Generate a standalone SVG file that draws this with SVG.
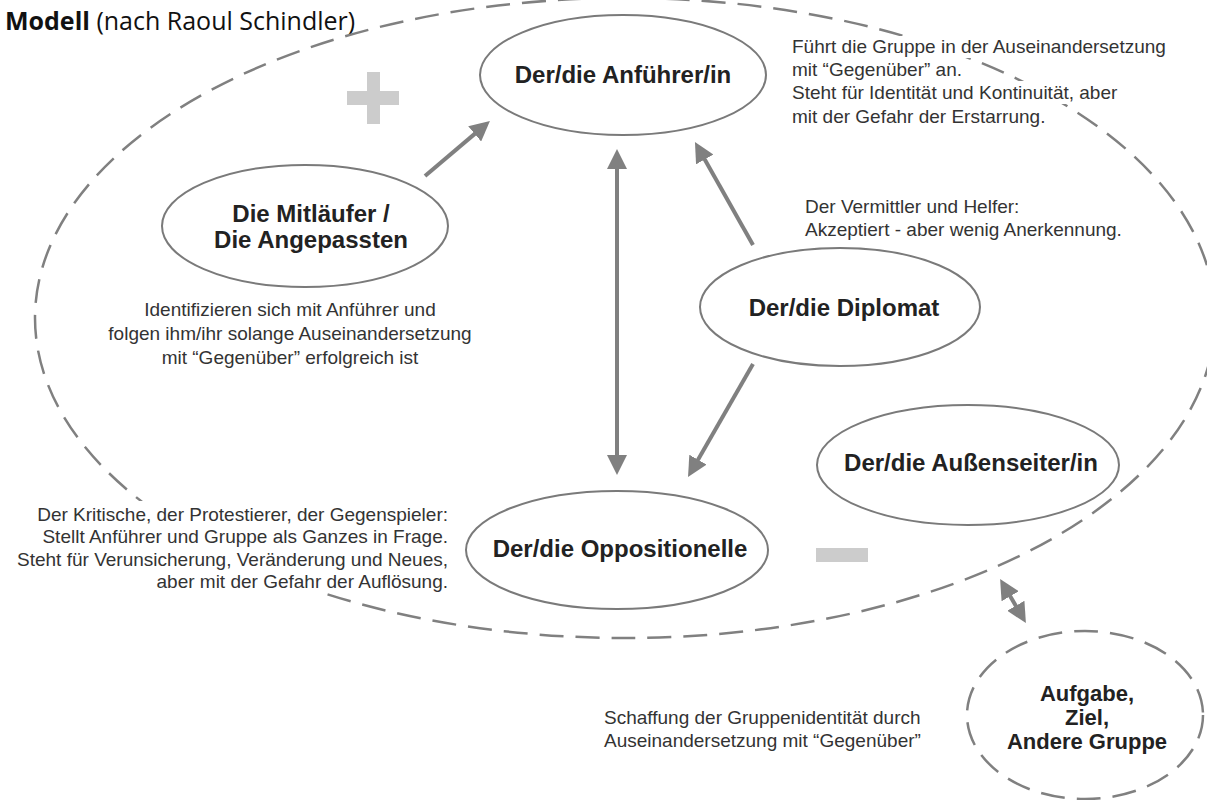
<svg xmlns="http://www.w3.org/2000/svg" width="1207" height="800" viewBox="0 0 1207 800">
<style>
.node{fill:#fff;stroke:#7a7a7a;stroke-width:2}
.dash{fill:none;stroke:#808080;stroke-width:2.5;stroke-dasharray:24 12}
.lbl{font-family:"Liberation Sans",Arial,sans-serif;font-weight:bold;font-size:24px;fill:#222;text-anchor:middle}
.desc{font-family:"Liberation Sans",Arial,sans-serif;font-size:19px;fill:#333}
.arr{stroke:#808080;stroke-width:4;fill:none}
.sign{fill:#cccccc}
.bg{fill:#fff}
</style>
<defs>
<marker id="ah" viewBox="0 0 20 20" markerWidth="20" markerHeight="20" refX="2" refY="10" orient="auto-start-reverse" markerUnits="userSpaceOnUse">
<path d="M0,0 L20,10 L0,20 z" fill="#808080"/>
</marker>
</defs>
<rect width="1207" height="800" fill="#fff"/>
<text x="5" y="30" font-family="'Open Sans',sans-serif" font-size="25" fill="#111"><tspan font-weight="bold">Modell</tspan> (nach Raoul Schindler)</text>
<g id="gruppe">
<ellipse class="dash" cx="625" cy="318" rx="590" ry="320"/>
</g>
<g id="plus"><rect class="sign" x="347" y="91" width="52" height="14"/><rect class="sign" x="367" y="72" width="13" height="52"/></g>
<g id="minus"><rect class="sign" x="816" y="548" width="52" height="14"/></g>
<g id="text-anfuehrer">
<rect class="bg" x="788" y="36" width="382" height="22"/>
<rect class="bg" x="788" y="58" width="174" height="23"/>
<rect class="bg" x="788" y="81" width="292" height="23"/>
<rect class="bg" x="788" y="104" width="264" height="23"/>
<text class="desc" x="792"><tspan x="792" y="53">Führt die Gruppe in der Auseinandersetzung</tspan><tspan x="792" y="76">mit “Gegenüber” an.</tspan><tspan x="792" y="99">Steht für Identität und Kontinuität, aber</tspan><tspan x="792" y="123">mit der Gefahr der Erstarrung.</tspan></text>
</g>
<g id="text-oppositionelle">
<rect class="bg" x="5" y="501" width="450" height="92"/>
<text class="desc" text-anchor="end"><tspan x="448" y="521">Der Kritische, der Protestierer, der Gegenspieler:</tspan><tspan x="448" y="543">Stellt Anführer und Gruppe als Ganzes in Frage.</tspan><tspan x="448" y="566">Steht für Verunsicherung, Veränderung und Neues,</tspan><tspan x="448" y="588">aber mit der Gefahr der Auflösung.</tspan></text>
</g>
<g id="text-diplomat">
<text class="desc"><tspan x="805" y="213">Der Vermittler und Helfer:</tspan><tspan x="805" y="236">Akzeptiert - aber wenig Anerkennung.</tspan></text>
</g>
<g id="text-mitlaeufer">
<text class="desc" text-anchor="middle"><tspan x="290" y="316">Identifizieren sich mit Anführer und</tspan><tspan x="290" y="340">folgen ihm/ihr solange Auseinandersetzung</tspan><tspan x="290" y="364">mit “Gegenüber” erfolgreich ist</tspan></text>
</g>
<g id="text-gegenueber">
<text class="desc"><tspan x="604" y="724">Schaffung der Gruppenidentität durch</tspan><tspan x="604" y="747">Auseinandersetzung mit “Gegenüber”</tspan></text>
</g>
<g id="connectors">
<line class="arr" x1="425" y1="176" x2="476.2" y2="132.6" marker-end="url(#ah)"/>
<line class="arr" x1="617" y1="167" x2="617" y2="457" marker-start="url(#ah)" marker-end="url(#ah)"/>
<line class="arr" x1="753" y1="245" x2="703.8" y2="157.7" marker-end="url(#ah)"/>
<line class="arr" x1="753" y1="364" x2="697" y2="461.4" marker-end="url(#ah)"/>
<line class="arr" x1="1009.2" y1="594.5" x2="1016.8" y2="607.5" marker-start="url(#ah)" marker-end="url(#ah)"/>
</g>
<g id="anfuehrer"><ellipse class="node" cx="623" cy="75" rx="143" ry="60"/><text class="lbl" x="623" y="83">Der/die Anführer/in</text></g>
<g id="mitlaeufer"><ellipse class="node" cx="305" cy="226" rx="143" ry="61"/><text class="lbl"><tspan x="311" y="222">Die Mitläufer /</tspan><tspan x="311" y="248">Die Angepassten</tspan></text></g>
<g id="diplomat"><ellipse class="node" cx="840" cy="307" rx="140" ry="59"/><text class="lbl" x="844" y="316">Der/die Diplomat</text></g>
<g id="aussenseiter"><ellipse class="node" cx="968" cy="465" rx="151" ry="60"/><text class="lbl" x="971" y="471">Der/die Außenseiter/in</text></g>
<g id="oppositionelle"><ellipse class="node" cx="617" cy="550" rx="151" ry="59"/><text class="lbl" x="620" y="557">Der/die Oppositionelle</text></g>
<g id="aufgabe"><ellipse class="dash" cx="1085" cy="715" rx="118" ry="84"/><text class="lbl" style="font-size:22px"><tspan x="1087" y="701">Aufgabe,</tspan><tspan x="1087" y="725">Ziel,</tspan><tspan x="1087" y="749">Andere Gruppe</tspan></text></g>
</svg>
